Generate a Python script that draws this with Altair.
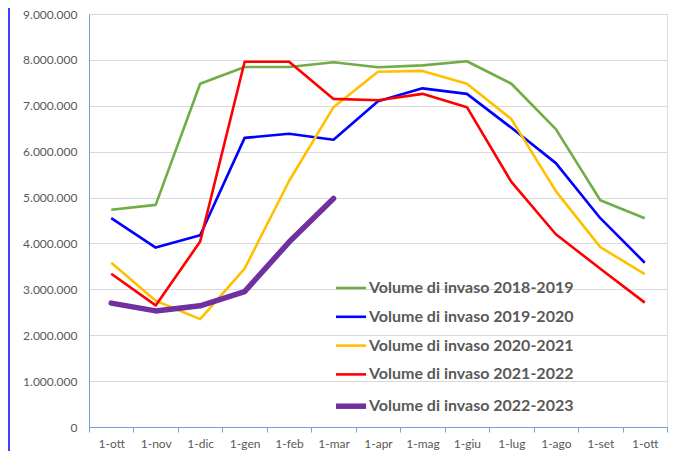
import json
import altair as alt
import pandas as pd

labels = ["1-ott", "1-nov", "1-dic", "1-gen", "1-feb", "1-mar", "1-apr",
          "1-mag", "1-giu", "1-lug", "1-ago", "1-set", "1-ott"]

series_names = ["Volume di invaso 2018-2019", "Volume di invaso 2019-2020",
                "Volume di invaso 2020-2021", "Volume di invaso 2021-2022",
                "Volume di invaso 2022-2023"]

v2018 = [4735000, 4840000, 7480000, 7845000, 7845000, 7950000, 7840000,
         7880000, 7970000, 7480000, 6490000, 4940000, 4550000]
v2019 = [4550000, 3910000, 4180000, 6300000, 6390000, 6260000, 7100000,
         7380000, 7260000, 6520000, 5750000, 4550000, 3580000]
v2020 = [3580000, 2750000, 2350000, 3450000, 5360000, 6970000, 7740000,
         7760000, 7480000, 6710000, 5140000, 3920000, 3330000]
v2021 = [3340000, 2650000, 4040000, 7960000, 7960000, 7150000, 7120000,
         7260000, 6970000, 5340000, 4200000, 3450000, 2710000]
v2022 = [2700000, 2530000, 2640000, 2950000, 4030000, 4980000]

colors = ["#70ad47", "#0000ff", "#ffc000", "#ff0000", "#7030a0"]
THIN, THICK = 2.6, 5.5

rows = []
for name, vals in zip(series_names, [v2018, v2019, v2020, v2021, v2022]):
    for i, v in enumerate(vals):
        rows.append({"idx": i, "serie": name, "valore": v})
df = pd.DataFrame(rows)

FONT = "Lato"
GRAY = "#595959"
AXIS_BLUE = "#7a9be0"

label_expr = json.dumps(labels) + "[datum.value]"
thick_name = series_names[-1]

legend = alt.Legend(orient="none", legendX=254, legendY=266,
                    symbolType="stroke", symbolSize=900,
                    symbolStrokeWidth={"expr": f"datum.value == '{thick_name}' ? {THICK} : {THIN}"},
                    labelFont=FONT, labelFontSize=16,
                    labelFontWeight="bold", labelColor=GRAY,
                    labelOffset=10, rowPadding=12.8, padding=0,
                    labelLimit=400)

x_enc = alt.X("idx:O", title=None,
              scale=alt.Scale(type="band", paddingInner=0, paddingOuter=0,
                              domain=list(range(len(labels)))),
              axis=alt.Axis(labelExpr=label_expr, labelAngle=0, tickBand="extent",
                            grid=False, domainColor=AXIS_BLUE, tickColor=AXIS_BLUE,
                            tickSize=5, labelPadding=6, labelFont=FONT,
                            labelFontSize=12, labelColor=GRAY))
y_enc = alt.Y("valore:Q", title=None,
              scale=alt.Scale(domain=[0, 9000000], nice=False),
              axis=alt.Axis(values=list(range(0, 9000001, 1000000)),
                            labelExpr="replace(format(datum.value, ','), /,/g, '.')",
                            grid=True, gridColor="#d9d9d9", gridWidth=1,
                            domainColor=AXIS_BLUE, ticks=False, labelPadding=12,
                            labelFont=FONT, labelFontSize=12, labelColor=GRAY))
c_enc = alt.Color("serie:N", title=None,
                  scale=alt.Scale(domain=series_names, range=colors),
                  legend=legend)

base = alt.Chart(df).encode(x=x_enc, y=y_enc, color=c_enc, order=alt.Order("idx:Q"))

thin_lines = base.transform_filter(alt.datum.serie != thick_name).mark_line(
    strokeWidth=THIN, strokeJoin="round")
thick_line = base.transform_filter(alt.datum.serie == thick_name).mark_line(
    strokeWidth=THICK, strokeJoin="round", strokeCap="round")

edge = alt.Chart(pd.DataFrame({"a": [0]})).mark_rule(
    color="#0000ff", strokeWidth=1.5, clip=False
).encode(x=alt.value(-80), y=alt.value(-20), y2=alt.value(460))

chart = alt.layer(edge, thin_lines, thick_line).properties(
    width=578, height=413,
    autosize=alt.AutoSizeParams(type="none"),
    padding={"left": 81, "top": 6, "right": 2, "bottom": 24},
).configure_view(stroke=None).configure(background="white")

chart.save("out.html", embed_options={"renderer": "svg", "actions": False})
